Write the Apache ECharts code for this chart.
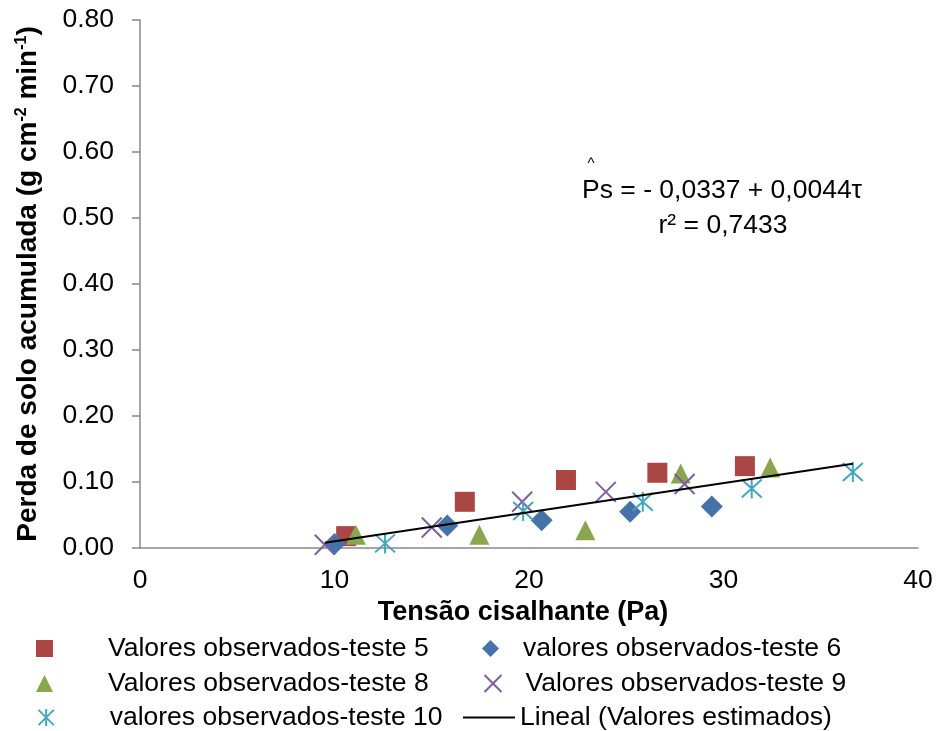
<!DOCTYPE html>
<html><head><meta charset="utf-8">
<script src="https://cdn.jsdelivr.net/npm/echarts@6/dist/echarts.min.js"></script>
<style>html,body{margin:0;padding:0;background:#fff}#c{width:939px;height:731px}</style>
</head><body><div id="c"></div>
<script>
// ---- data ----
const seriesNames = [
  'Valores observados-teste 5',
  'valores observados-teste 6',
  'Valores observados-teste 8',
  'Valores observados-teste 9',
  'valores observados-teste 10',
  'Lineal (Valores estimados)'
];
const t5x  = [10.6, 16.7, 21.9, 26.6, 31.1];
const t5y  = [0.018, 0.070, 0.103, 0.114, 0.124];
const t6x  = [10.0, 15.8, 20.65, 25.2, 29.4];
const t6y  = [0.006, 0.034, 0.042, 0.055, 0.063];
const t8x  = [11.1, 17.45, 22.9, 27.8, 32.4];
const t8y  = [0.020, 0.020, 0.027, 0.113, 0.122];
const t9x  = [9.5, 15.0, 19.65, 23.95, 28.0];
const t9y  = [0.005, 0.031, 0.070, 0.085, 0.097];
const t10x = [12.6, 19.7, 25.85, 31.45, 36.65];
const t10y = [0.007, 0.056, 0.070, 0.090, 0.115];
const fitIntercept = -0.0337, fitSlope = 0.0044;
const fitX = [9.5, 36.65];
const equationText = 'Ps = - 0,0337 + 0,0044τ';
const r2Text = 'r² = 0,7433';
const xAxisTitle = 'Tensão cisalhante (Pa)';

// ---- build ----
const FF = '"Liberation Sans", Arial, sans-serif';
const zip = (xs, ys) => xs.map((x, i) => [x, ys[i]]);
const fitData = fitX.map(x => [x, fitIntercept + fitSlope * x]);

const colors = ['#AA4643', '#4572A7', '#89A54E', '#7D5FA0', '#45A5BF'];
const xPath = 'path://M0,0L20,20M20,0L0,20';
const starPath = 'path://M10,0L10,20M1,1L19,19M19,1L1,19';

const chart = echarts.init(document.getElementById('c'), null, {renderer: 'canvas'});

const LFS = 26.5;
function leg(name, left, top, padLeft, opts) {
  return Object.assign({
    data: [name], left: left, top: top, padding: 0, selectedMode: false,
    itemWidth: 17, itemHeight: 17,
    textStyle: {fontSize: LFS, fontFamily: FF, color: '#000', padding: [0, 0, 0, padLeft]}
  }, opts || {});
}

chart.setOption({
  animation: false,
  backgroundColor: '#fff',
  grid: {left: 140, right: 21, top: 20, bottom: 183, containLabel: false},
  xAxis: {
    type: 'value', min: 0, max: 40, interval: 10,
    name: xAxisTitle, nameLocation: 'middle', nameGap: 47,
    nameTextStyle: {fontSize: 27, fontWeight: 'bold', fontFamily: FF, color: '#000', padding: [0, 12, 0, 0]},
    axisLine: {show: true, onZero: false, lineStyle: {color: '#888', width: 1.5}},
    axisTick: {show: false},
    splitLine: {show: false},
    axisLabel: {fontSize: 26.5, fontFamily: FF, color: '#000', margin: 19}
  },
  yAxis: {
    type: 'value', min: 0, max: 0.8, interval: 0.1,
    name: 'Perda de solo acumulada (g cm{sup|-2} min{sup|-1})',
    nameLocation: 'middle', nameGap: 98, nameRotate: 90,
    nameTextStyle: {fontSize: 28, fontWeight: 'bold', fontFamily: FF, color: '#000',
      rich: {sup: {fontSize: 16, fontWeight: 'bold', fontFamily: FF, color: '#000', verticalAlign: 'top', padding: [0, 0, 11, 0]}}},
    axisLine: {show: true, lineStyle: {color: '#888', width: 1.5}},
    axisTick: {show: true, inside: false, length: 8, lineStyle: {color: '#888', width: 1.5}},
    splitLine: {show: false},
    axisLabel: {fontSize: 26.5, fontFamily: FF, color: '#000', margin: 26,
      formatter: v => v.toFixed(2)}
  },
  legend: [
    leg(seriesNames[0], 36, 635, 50),
    leg(seriesNames[1], 482, 635, 19),
    leg(seriesNames[2], 36, 670, 50),
    leg(seriesNames[3], 482, 670, 19),
    leg(seriesNames[4], 36, 704, 50),
    leg({name: seriesNames[5], icon: 'rect'}, 463, 704, 0, {itemWidth: 52, itemHeight: 2})
  ],
  series: [
    {name: seriesNames[0], type: 'scatter', data: zip(t5x, t5y), symbol: 'rect', symbolSize: 20,
      itemStyle: {color: colors[0], opacity: 1}},
    {name: seriesNames[1], type: 'scatter', data: zip(t6x, t6y), symbol: 'diamond', symbolSize: 22,
      itemStyle: {color: colors[1], opacity: 1}},
    {name: seriesNames[2], type: 'scatter', data: zip(t8x, t8y), symbol: 'triangle', symbolSize: 20,
      itemStyle: {color: colors[2], opacity: 1}},
    {name: seriesNames[3], type: 'scatter', data: zip(t9x, t9y), symbol: xPath, symbolSize: 20,
      itemStyle: {color: 'none', borderColor: colors[3], borderWidth: 2, opacity: 1}},
    {name: seriesNames[4], type: 'scatter', data: zip(t10x, t10y), symbol: starPath, symbolSize: 20,
      itemStyle: {color: 'none', borderColor: colors[4], borderWidth: 2, opacity: 1}},
    {name: seriesNames[5], type: 'line', data: fitData, symbol: 'none', showSymbol: false,
      lineStyle: {color: '#000', width: 2}, itemStyle: {color: '#000'}, z: 3}
  ],
  graphic: [
    {type: 'text', left: 582, top: 177, style: {text: equationText, font: '26.5px ' + FF, fill: '#000'}},
    {type: 'text', x: 591, y: 164, style: {text: '^', font: '15px ' + FF, fill: '#000', textAlign: 'center', textVerticalAlign: 'middle'}},
    {type: 'text', x: 723, y: 226, style: {text: r2Text, font: '26.5px ' + FF, fill: '#000', textAlign: 'center', textVerticalAlign: 'middle'}}
  ]
});
</script>
</body></html>
